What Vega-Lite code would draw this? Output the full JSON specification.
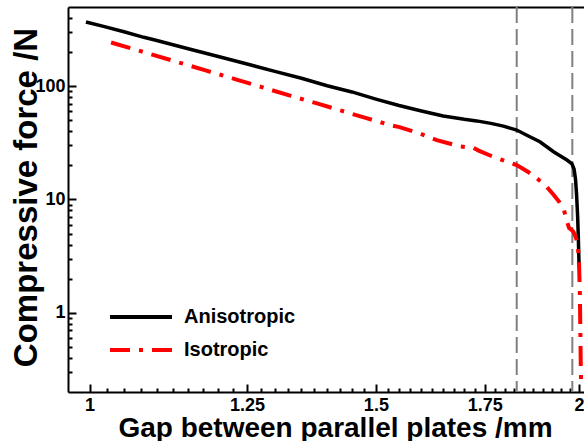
{
  "$schema": "https://vega.github.io/schema/vega-lite/v6.json",
  "width": 516,
  "height": 385,
  "autosize": {"type": "none"},
  "padding": {"left": 68, "top": 7, "right": 0, "bottom": 49},
  "config": {
    "view": {"stroke": null},
    "axis": {"grid": false, "domainColor": "#000000", "domainWidth": 2, "tickColor": "#000000", "tickWidth": 2,
             "labelFont": "Liberation Sans", "labelFontWeight": "bold", "labelFontSize": 18, "labelColor": "#000000",
             "titleFont": "Liberation Sans", "titleFontWeight": "bold", "titleColor": "#000000"},
    "legend": {"orient": "none", "title": null, "symbolType": "stroke", "symbolSize": 3844, "symbolStrokeWidth": 4,
               "labelFont": "Liberation Sans", "labelFontWeight": "bold", "labelFontSize": 20,
               "labelColor": "#000000", "labelOffset": 10, "padding": 0}
  },
  "datasets": {
    "curves": [
      {"series": "Anisotropic", "gap": 0.995, "force": 369},
      {"series": "Anisotropic", "gap": 1.02, "force": 337},
      {"series": "Anisotropic", "gap": 1.05, "force": 302},
      {"series": "Anisotropic", "gap": 1.08, "force": 270},
      {"series": "Anisotropic", "gap": 1.1, "force": 253},
      {"series": "Anisotropic", "gap": 1.15, "force": 214},
      {"series": "Anisotropic", "gap": 1.2, "force": 183},
      {"series": "Anisotropic", "gap": 1.25, "force": 157},
      {"series": "Anisotropic", "gap": 1.3, "force": 135},
      {"series": "Anisotropic", "gap": 1.35, "force": 117.5},
      {"series": "Anisotropic", "gap": 1.4, "force": 101},
      {"series": "Anisotropic", "gap": 1.45, "force": 89},
      {"series": "Anisotropic", "gap": 1.5, "force": 77},
      {"series": "Anisotropic", "gap": 1.55, "force": 67.5},
      {"series": "Anisotropic", "gap": 1.6, "force": 60.5},
      {"series": "Anisotropic", "gap": 1.65, "force": 54.5},
      {"series": "Anisotropic", "gap": 1.7, "force": 51},
      {"series": "Anisotropic", "gap": 1.73, "force": 49.4},
      {"series": "Anisotropic", "gap": 1.765, "force": 47},
      {"series": "Anisotropic", "gap": 1.797, "force": 44.4},
      {"series": "Anisotropic", "gap": 1.831, "force": 41},
      {"series": "Anisotropic", "gap": 1.86, "force": 36.5},
      {"series": "Anisotropic", "gap": 1.892, "force": 32.3},
      {"series": "Anisotropic", "gap": 1.929, "force": 26.4},
      {"series": "Anisotropic", "gap": 1.95, "force": 24},
      {"series": "Anisotropic", "gap": 1.966, "force": 22.3},
      {"series": "Anisotropic", "gap": 1.98, "force": 20.6},
      {"series": "Anisotropic", "gap": 1.986, "force": 18.5},
      {"series": "Anisotropic", "gap": 1.99, "force": 15},
      {"series": "Anisotropic", "gap": 1.993, "force": 11},
      {"series": "Anisotropic", "gap": 1.996, "force": 7},
      {"series": "Anisotropic", "gap": 1.998, "force": 4.5},
      {"series": "Anisotropic", "gap": 2.0, "force": 2.6},
      {"series": "Isotropic", "gap": 1.031, "force": 243},
      {"series": "Isotropic", "gap": 1.08, "force": 200},
      {"series": "Isotropic", "gap": 1.13, "force": 165},
      {"series": "Isotropic", "gap": 1.18, "force": 137},
      {"series": "Isotropic", "gap": 1.23, "force": 115},
      {"series": "Isotropic", "gap": 1.28, "force": 97},
      {"series": "Isotropic", "gap": 1.33, "force": 82},
      {"series": "Isotropic", "gap": 1.38, "force": 70.5},
      {"series": "Isotropic", "gap": 1.43, "force": 60.5},
      {"series": "Isotropic", "gap": 1.48, "force": 52.3},
      {"series": "Isotropic", "gap": 1.53, "force": 45.4},
      {"series": "Isotropic", "gap": 1.551, "force": 43.5},
      {"series": "Isotropic", "gap": 1.596, "force": 38.3},
      {"series": "Isotropic", "gap": 1.635, "force": 33.4},
      {"series": "Isotropic", "gap": 1.69, "force": 29.4},
      {"series": "Isotropic", "gap": 1.722, "force": 28.6},
      {"series": "Isotropic", "gap": 1.735, "force": 27},
      {"series": "Isotropic", "gap": 1.771, "force": 23.8},
      {"series": "Isotropic", "gap": 1.8, "force": 21.9},
      {"series": "Isotropic", "gap": 1.831, "force": 20.1},
      {"series": "Isotropic", "gap": 1.86, "force": 17.6},
      {"series": "Isotropic", "gap": 1.888, "force": 15},
      {"series": "Isotropic", "gap": 1.91, "force": 13},
      {"series": "Isotropic", "gap": 1.929, "force": 11},
      {"series": "Isotropic", "gap": 1.945, "force": 9.5},
      {"series": "Isotropic", "gap": 1.958, "force": 8.0},
      {"series": "Isotropic", "gap": 1.966, "force": 6.4},
      {"series": "Isotropic", "gap": 1.972, "force": 5.6},
      {"series": "Isotropic", "gap": 1.978, "force": 5.4},
      {"series": "Isotropic", "gap": 1.984, "force": 5.2},
      {"series": "Isotropic", "gap": 1.99, "force": 4.7},
      {"series": "Isotropic", "gap": 1.995, "force": 4.2},
      {"series": "Isotropic", "gap": 1.998, "force": 3.4},
      {"series": "Isotropic", "gap": 2.0, "force": 2.6},
      {"series": "Isotropic", "gap": 2.002, "force": 1.6},
      {"series": "Isotropic", "gap": 2.003, "force": 1.0},
      {"series": "Isotropic", "gap": 2.004, "force": 0.55},
      {"series": "Isotropic", "gap": 2.005, "force": 0.3},
      {"series": "Isotropic", "gap": 2.006, "force": 0.22}
    ],
    "marks": [
      {"gap": 1.831},
      {"gap": 1.981}
    ]
  },
  "resolve": {"axis": {"x": "independent"}},
  "layer": [
    {
      "data": {"name": "marks"},
      "mark": {"type": "rule", "color": "#808080", "strokeWidth": 2, "strokeDash": [16, 6]},
      "encoding": {
        "x": {"field": "gap", "type": "quantitative",
              "scale": {"type": "log", "domain": [0.97, 2.014], "nice": false, "zero": false},
              "axis": {"orient": "top", "ticks": false, "labels": false, "title": null, "domain": true}}
      }
    },
    {
      "data": {"name": "curves"},
      "transform": [{"filter": "datum.series === 'Anisotropic'"}],
      "mark": {"type": "line", "strokeWidth": 3.5, "clip": true},
      "encoding": {
        "x": {"field": "gap", "type": "quantitative",
              "scale": {"type": "log", "domain": [0.97, 2.014], "nice": false, "zero": false},
              "axis": {"orient": "bottom", "title": "Gap between parallel plates /mm", "titleFontSize": 28,
                       "titleX": 267, "titleY": 44, "titleBaseline": "alphabetic", "titleAlign": "center",
                       "values": [1,1.025,1.05,1.075,1.1,1.125,1.15,1.175,1.2,1.225,1.25,1.275,1.3,1.325,1.35,1.375,1.4,1.425,1.45,1.475,1.5,1.525,1.55,1.575,1.6,1.625,1.65,1.675,1.7,1.725,1.75,1.775,1.8,1.825,1.85,1.875,1.9,1.925,1.95,1.975,2],
                       "labelExpr": "indexof([1,1.25,1.5,1.75,2], datum.value) >= 0 ? format(datum.value, '~g') : ''",
                       "labelOverlap": false, "labelFlush": false, "labelBound": false,
                       "tickSize": {"condition": {"test": "indexof([1,1.25,1.5,1.75,2], datum.value) >= 0", "value": -8}, "value": -4},
                       "labelPadding": 12}},
        "y": {"field": "force", "type": "quantitative",
              "scale": {"type": "log", "domain": [0.2, 500], "nice": false, "zero": false},
              "axis": {"title": "Compressive force /N", "titleFontSize": 33, "titleX": -32, "titleY": 190,
                       "titleBaseline": "alphabetic", "titleAlign": "center", "titleAngle": -90,
                       "values": [0.3,0.4,0.5,0.6,0.7,0.8,0.9,1,2,3,4,5,6,7,8,9,10,20,30,40,50,60,70,80,90,100,200,300,400],
                       "labelExpr": "indexof([1,10,100], datum.value) >= 0 ? format(datum.value, 'd') : ''",
                       "labelOverlap": false, "labelFlush": false, "labelBound": false,
                       "tickSize": {"condition": {"test": "indexof([1,10,100], datum.value) >= 0", "value": -8}, "value": -4},
                       "labelPadding": 11}},
        "color": {"field": "series", "type": "nominal",
                  "scale": {"domain": ["Anisotropic"], "range": ["#000000"]},
                  "legend": {"legendX": 40, "legendY": 277}}
      }
    },
    {
      "data": {"name": "curves"},
      "transform": [{"filter": "datum.series === 'Isotropic'"}],
      "mark": {"type": "line", "strokeWidth": 4, "color": "#ff0000", "clip": true},
      "encoding": {
        "x": {"field": "gap", "type": "quantitative",
              "scale": {"type": "log", "domain": [0.97, 2.014], "nice": false, "zero": false},
              "axis": null},
        "y": {"field": "force", "type": "quantitative",
              "scale": {"type": "log", "domain": [0.2, 500], "nice": false, "zero": false}},
        "strokeDash": {"field": "series", "type": "nominal",
                       "scale": {"domain": ["Isotropic"], "range": [[20, 9, 4, 9]]},
                       "legend": {"legendX": 40, "legendY": 310, "symbolStrokeColor": "#ff0000",
                                  "encode": {"symbols": {"update": {"stroke": {"value": "#ff0000"}, "strokeDash": {"value": [20, 9, 4, 80]}}}}}}
      }
    }
  ]
}
